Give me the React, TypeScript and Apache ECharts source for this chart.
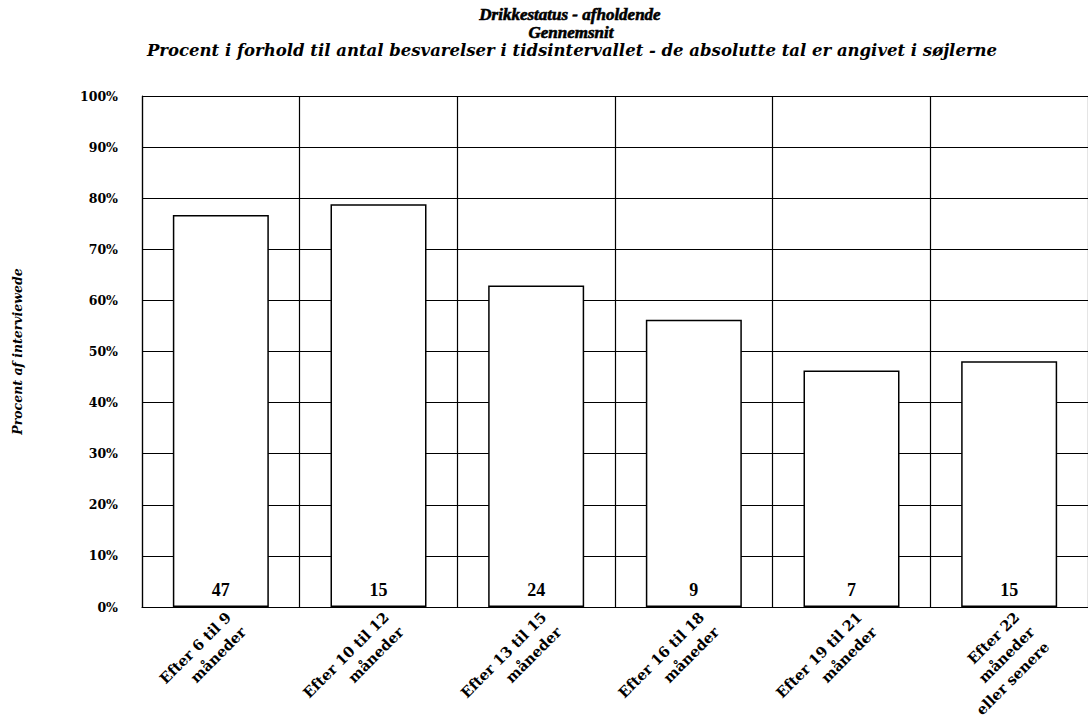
import React, { useEffect, useRef } from "react";
import * as echarts from "echarts";

const titleMain = "Drikkestatus - afholdende";
const titleSecond = "Gennemsnit";
const subTitle =
  "Procent i forhold til antal besvarelser i tidsintervallet - de absolutte tal er angivet i søjlerne";
const yAxisName = "Procent af interviewede";

const categories = [
  "Efter 6 til 9\nmåneder",
  "Efter 10 til 12\nmåneder",
  "Efter 13 til 15\nmåneder",
  "Efter 16 til 18\nmåneder",
  "Efter 19 til 21\nmåneder",
  "Efter 22\nmåneder\neller senere",
];
const percentages = [76.7, 78.8, 62.9, 56.2, 46.3, 48.1];
const counts = [47, 15, 24, 9, 7, 15];

const SERIF = '"Liberation Serif", "Times New Roman", serif';
const WIDE = '"DejaVu Serif", serif';

export default function App() {
  const ref = useRef<HTMLDivElement>(null);

  useEffect(() => {
    if (!ref.current) return;
    const chart = echarts.init(ref.current, null, { renderer: "svg" });
    const titleStyle = (text: string, size: number, family: string, stroke: number) => ({
      text,
      fontFamily: family,
      fontWeight: "bold",
      fontStyle: "italic",
      fontSize: size,
      fill: "#000",
      stroke: stroke > 0 ? "#000" : undefined,
      lineWidth: stroke,
      textAlign: "center",
      textVerticalAlign: "middle",
    });
    chart.setOption({
      animation: false,
      backgroundColor: "#ffffff",
      graphic: [
        { type: "text", x: 570, y: 14, style: titleStyle(titleMain, 17, SERIF, 0.6) },
        { type: "text", x: 571, y: 32, style: titleStyle(titleSecond, 17, SERIF, 0.6) },
        { type: "text", x: 572, y: 50, style: titleStyle(subTitle, 16.5, WIDE, 0) },
      ],
      grid: { left: 142, right: 0, top: 96, bottom: 116, containLabel: false },
      xAxis: {
        type: "category",
        data: categories,
        boundaryGap: true,
        axisLine: { show: true, lineStyle: { color: "#000", width: 1.2 } },
        axisTick: { show: false },
        splitLine: { show: true, interval: 0, lineStyle: { color: "#000", width: 1.2 } },
        axisLabel: {
          interval: 0,
          rotate: 45,
          margin: 0,
          verticalAlign: "top",
          fontFamily: WIDE,
          fontWeight: "bold",
          fontSize: 14.5,
          lineHeight: 21,
          color: "#000",
        },
      },
      yAxis: {
        type: "value",
        min: 0,
        max: 100,
        interval: 10,
        name: yAxisName,
        nameLocation: "middle",
        nameGap: 118,
        nameTextStyle: {
          fontFamily: WIDE,
          fontWeight: "bold",
          fontStyle: "italic",
          fontSize: 12.5,
          color: "#000",
        },
        axisLine: { show: true, lineStyle: { color: "#000", width: 1.2 } },
        axisTick: { show: false },
        splitLine: { show: true, lineStyle: { color: "#000", width: 1.2 } },
        axisLabel: {
          margin: 24,
          formatter: "{value}%",
          fontFamily: WIDE,
          fontWeight: "bold",
          fontSize: 12.5,
          color: "#000",
        },
      },
      series: [
        {
          type: "bar",
          data: percentages,
          barWidth: 96,
          itemStyle: { color: "#ffffff", borderColor: "#000", borderWidth: 1.5 },
          label: {
            show: true,
            position: "insideBottom",
            distance: 8,
            formatter: (p: any) => String(counts[p.dataIndex]),
            fontFamily: SERIF,
            fontWeight: "bold",
            fontSize: 18,
            color: "#000",
          },
        },
      ],
    });
    return () => chart.dispose();
  }, []);

  return (
    <div
      ref={ref}
      style={{ position: "fixed", left: 0, top: 0, width: 1088, height: 723, background: "#fff" }}
    />
  );
}
